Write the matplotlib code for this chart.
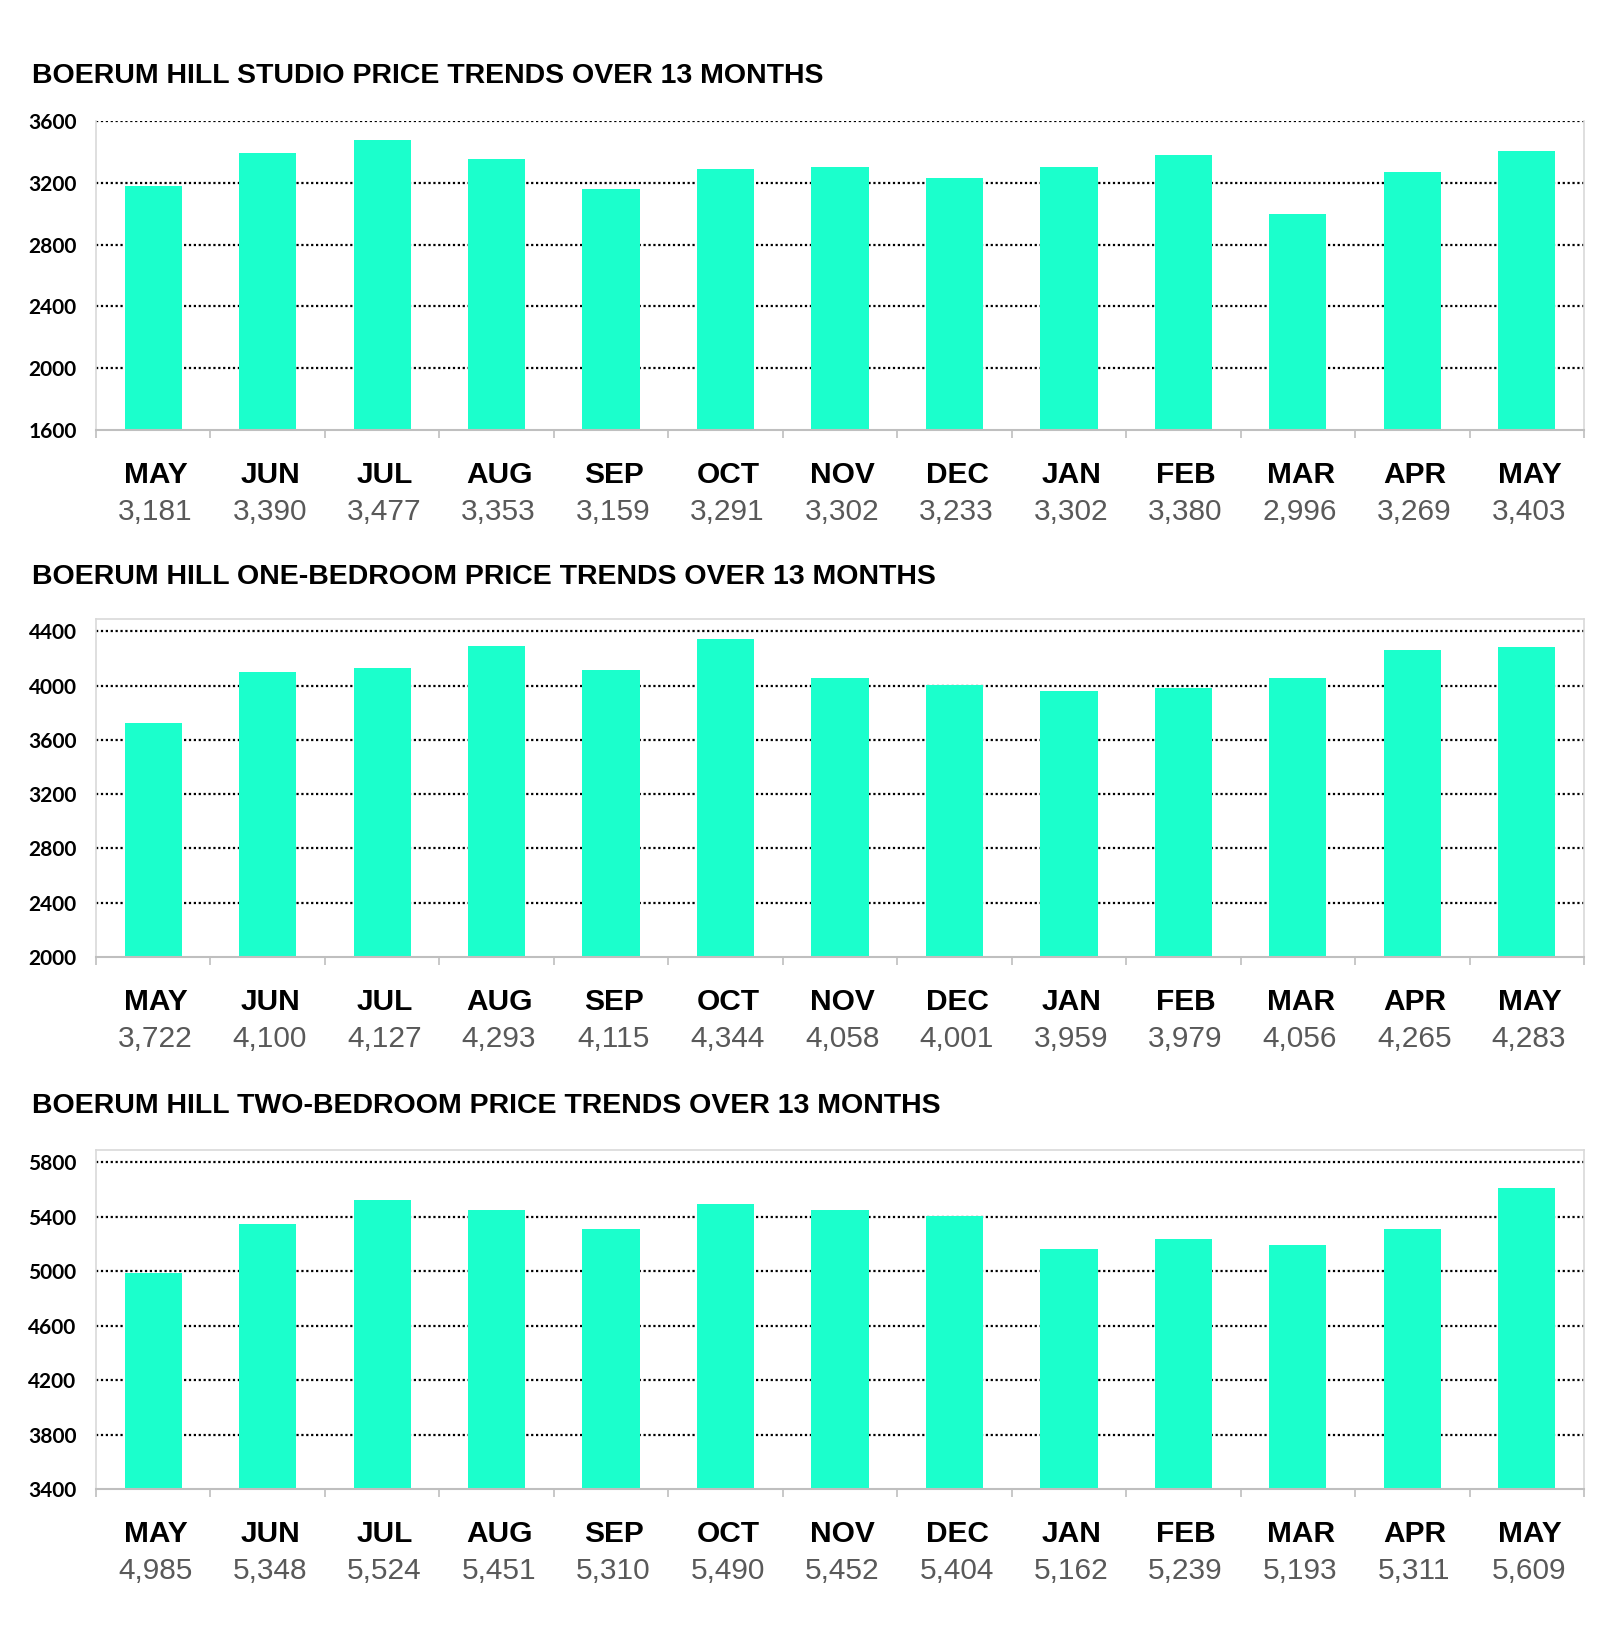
import matplotlib
matplotlib.use("Agg")
import matplotlib.pyplot as plt
import numpy as np

months = ["MAY", "JUN", "JUL", "AUG", "SEP", "OCT", "NOV", "DEC", "JAN", "FEB", "MAR", "APR", "MAY"]
studio = [3181, 3390, 3477, 3353, 3159, 3291, 3302, 3233, 3302, 3380, 2996, 3269, 3403]
one_bed = [3722, 4100, 4127, 4293, 4115, 4344, 4058, 4001, 3959, 3979, 4056, 4265, 4283]
two_bed = [4985, 5348, 5524, 5451, 5310, 5490, 5452, 5404, 5162, 5239, 5193, 5311, 5609]
titles = ["BOERUM HILL STUDIO PRICE TRENDS OVER 13 MONTHS",
          "BOERUM HILL ONE-BEDROOM PRICE TRENDS OVER 13 MONTHS",
          "BOERUM HILL TWO-BEDROOM PRICE TRENDS OVER 13 MONTHS"]
yticks_list = [[1600, 2000, 2400, 2800, 3200, 3600],
               [2000, 2400, 2800, 3200, 3600, 4000, 4400],
               [3400, 3800, 4200, 4600, 5000, 5400, 5800]]
ylims = [(1600, 3600), (2000, 4490), (3400, 5890)]
series = [studio, one_bed, two_bed]

W, H = 1600, 1642
fig = plt.figure(figsize=(W / 100, H / 100), dpi=100)
BAR = "#1bffcc"

boxes = [(121, 430), (619, 957), (1150, 1489)]
title_y = [76, 577, 1106]
left_px, right_px = 96, 1584

for i in range(3):
    top, bot = boxes[i]
    ax = fig.add_axes([left_px / W, 1 - bot / H, (right_px - left_px) / W, (bot - top) / H])
    x = np.arange(len(months))
    ax.bar(x, series[i], width=0.5, color=BAR, zorder=2)
    ax.set_xlim(-0.5, len(months) - 0.5)
    ax.set_ylim(*ylims[i])
    ax.set_yticks(yticks_list[i])
    ax.set_yticklabels([str(t) for t in yticks_list[i]], fontfamily="Lato", fontweight="bold", fontsize=15)
    ax.tick_params(axis="y", length=0, pad=14)
    for t in yticks_list[i][1:]:
        ax.axhline(t, color="black", linestyle=(0, (1, 1.2)), linewidth=1.6, zorder=1)
    ax.set_xticks(np.arange(-0.5, len(months), 1.0))
    ax.set_xticklabels([])
    ax.tick_params(axis="x", length=6, width=1.2, color="#bfbfbf", direction="out")
    for s in ["left", "right", "top"]:
        ax.spines[s].set_color("#d9d9d9")
        ax.spines[s].set_linewidth(1.2)
    if i == 0:
        ax.spines["top"].set_visible(False)
    ax.spines["bottom"].set_color("#bfbfbf")
    ax.spines["bottom"].set_linewidth(1.5)
    for j, (m, v) in enumerate(zip(months, series[i])):
        ax.annotate(m, xy=(j, 0), xycoords=("data", "axes fraction"),
                    xytext=(2, -32.5), textcoords="offset points",
                    ha="center", va="center", fontsize=21.5, fontweight="bold",
                    fontfamily="Liberation Sans", color="black")
        ax.annotate(f"{v:,}", xy=(j, 0), xycoords=("data", "axes fraction"),
                    xytext=(1.5, -59), textcoords="offset points",
                    ha="center", va="center", fontsize=21.5,
                    fontfamily="Liberation Sans", color="#595959")
    fig.text(32 / W, 1 - title_y[i] / H, titles[i], ha="left", va="center",
             fontsize=20.5, fontweight="bold", fontfamily="Liberation Sans")

fig.savefig("out.png", dpi=100)
